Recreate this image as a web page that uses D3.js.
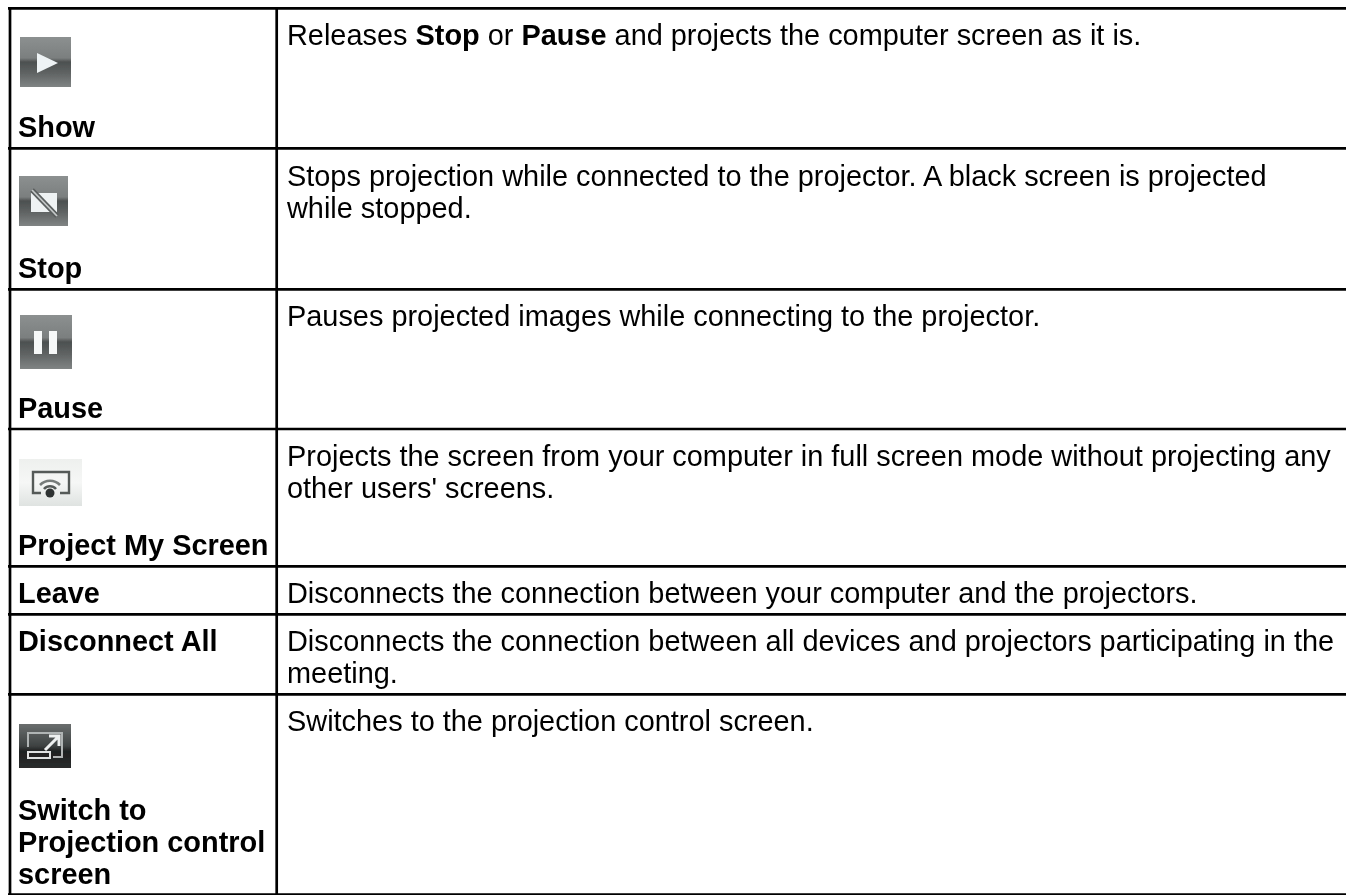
<!DOCTYPE html>
<html><head><meta charset="utf-8">
<script src="https://cdn.jsdelivr.net/npm/d3@7"></script>
<style>html,body{margin:0;padding:0;background:#fff;overflow:hidden}svg{display:block}
text{font-family:"Liberation Sans",Arial,sans-serif;fill:#000;font-size:28.9px}</style></head><body>
<script>
const labels=[["Show"],["Stop"],["Pause"],["Project My Screen"],["Leave"],["Disconnect All"],["Switch to","Projection control","screen"]];
const descriptions=[
[[["Releases ",0],["Stop",1],[" or ",0],["Pause",1],[" and projects the computer screen as it is.",0]]],
[[["Stops projection while connected to the projector. A black screen is projected",0]],[["while stopped.",0]]],
[[["Pauses projected images while connecting to the projector.",0]]],
[[["Projects the screen from your computer in full screen mode without projecting any",0]],[["other users' screens.",0]]],
[[["Disconnects the connection between your computer and the projectors.",0]]],
[[["Disconnects the connection between all devices and projectors participating in the",0]],[["meeting.",0]]],
[[["Switches to the projection control screen.",0]]]];
const icons=["play","stop","pause","cast",null,null,"switch"];

const W=1346,H=895;
const rowLines=[8.3,148.3,289.3,429,566.3,614.3,694.4,894.5];
const colLines=[10,276.7];
const svg=d3.select("body").append("svg").attr("width",W).attr("height",H);
const defs=svg.append("defs");
function grad(id,stops){const g=defs.append("linearGradient").attr("id",id).attr("x1",0).attr("x2",0).attr("y1",0).attr("y2",1);
 stops.forEach(s=>g.append("stop").attr("offset",s[0]).attr("stop-color",s[1]));}
grad("gGray",[[0,"#8c9090"],[.42,"#7b7f7f"],[.5,"#4c5050"],[.72,"#5f6363"],[1,"#808484"]]);
grad("gDark",[[0,"#6a6e6e"],[.5,"#3e4242"],[.62,"#1e2020"],[1,"#2a2c2c"]]);
grad("gLight",[[0,"#eef0ee"],[.5,"#f6f7f6"],[1,"#dfe3e1"]]);
defs.append("filter").attr("id","soft").append("feGaussianBlur").attr("stdDeviation",.7);
defs.append("filter").attr("id","txt").append("feGaussianBlur").attr("stdDeviation",.35);

const y=d3.scaleOrdinal().domain(d3.range(labels.length+1)).range(rowLines);
const rows=svg.selectAll("g.row").data(labels.map((l,i)=>({l,d:descriptions[i],icon:icons[i],i}))).join("g").attr("class","row");

rows.each(function(r){
 const g=d3.select(this),top=y(r.i),bot=y(r.i+1);
 const n=r.l.length,t=g.append("g").attr("filter","url(#txt)");
 const lastBase=bot-11;
 r.l.forEach((s,k)=>{
  const base=r.icon?lastBase-(n-1-k)*32:top+37;
  t.append("text").attr("x",18).attr("y",base).attr("font-weight","bold").text(s);
 });
 r.d.forEach((line,k)=>{
  const tx=t.append("text").attr("x",287).attr("y",top+(r.i==1?38:37)+k*32);
  line.forEach(s=>tx.append("tspan").attr("font-weight",s[1]?"bold":"normal").text(s[0]));
 });
 if(r.icon) drawIcon(g.append("g").attr("filter","url(#soft)"),r.icon);
});

function drawIcon(g,k){
 const box={play:[20,37,51,50,"gGray"],stop:[19,176,49,50,"gGray"],pause:[20,315,52,54,"gGray"],cast:[19,459,63,47,"gLight"],switch:[19,724,52,44,"gDark"]}[k];
 g.append("rect").attr("x",box[0]).attr("y",box[1]).attr("width",box[2]).attr("height",box[3]).attr("fill",`url(#${box[4]})`);
 if(k=="play") g.append("path").attr("d",d3.line()([[37,53],[37,73],[58,63]])+"Z").attr("fill","#eef3f5");
 if(k=="stop"){
  g.append("path").attr("d","M31 193H57V212H31Z").attr("fill","#eef2f3");
  g.append("path").attr("d","M32 190L57 216").attr("stroke","#5a5e5e").attr("stroke-width",5);
  g.append("path").attr("d","M32 190L57 216").attr("stroke","#c4c8c8").attr("stroke-width",1.8);
 }
 if(k=="pause"){
  g.append("rect").attr("x",34).attr("y",331).attr("width",8).attr("height",23).attr("fill","#f6f8f8");
  g.append("rect").attr("x",49).attr("y",331).attr("width",8).attr("height",23).attr("fill","#f6f8f8");
 }
 if(k=="cast"){
  g.append("path").attr("d","M41 493H33V472H69V493H60").attr("fill","none").attr("stroke","#555a58").attr("stroke-width",2.4);
  g.append("path").attr("d","M40 485A14 14 0 0 1 60 485").attr("fill","none").attr("stroke","#777c7a").attr("stroke-width",2.6);
  g.append("path").attr("d","M44 489A8 8 0 0 1 56 489").attr("fill","none").attr("stroke","#555a58").attr("stroke-width",2.6);
  g.append("circle").attr("cx",50).attr("cy",493).attr("r",4.5).attr("fill","#2f3332");
 }
 if(k=="switch"){
  g.append("path").attr("d","M28 747V733H62V757H53").attr("fill","none").attr("stroke","#b0b4b4").attr("stroke-width",2);
  g.append("rect").attr("x",28).attr("y",752).attr("width",22).attr("height",6).attr("fill","none").attr("stroke","#dfe2e2").attr("stroke-width",2);
  g.append("path").attr("d","M45 750L58 737M49 736H59V746").attr("fill","none").attr("stroke","#eef0f0").attr("stroke-width",3);
 }
}

svg.append("g").selectAll("line").data(rowLines).join("line")
 .attr("x1",8).attr("x2",W).attr("y1",d=>d).attr("y2",d=>d).attr("stroke","#000").attr("stroke-width",2.7);
svg.append("g").selectAll("line").data(colLines).join("line")
 .attr("x1",d=>d).attr("x2",d=>d).attr("y1",7).attr("y2",H).attr("stroke","#000").attr("stroke-width",2.7);
</script></body></html>
